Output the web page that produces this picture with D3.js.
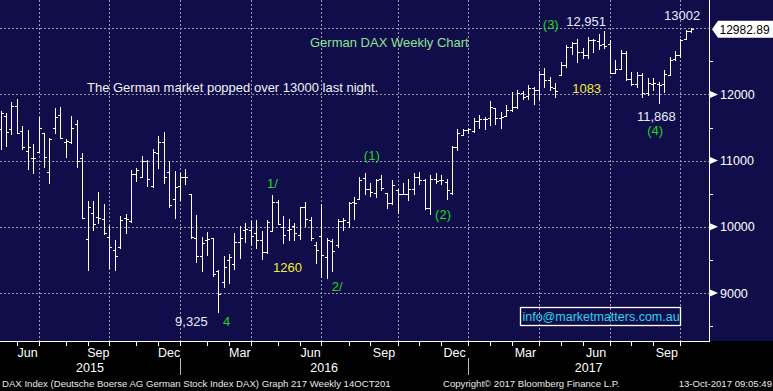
<!DOCTYPE html>
<html><head><meta charset="utf-8">
<script src="https://cdn.jsdelivr.net/npm/d3@7"></script>
<style>
html,body{margin:0;padding:0;background:#000;}
svg{display:block;font-family:"Liberation Sans",Arial,Helvetica,sans-serif;}
</style></head>
<body>
<svg id="chart" width="773" height="391"></svg>
<script>
// ---- DATA (DAX weekly OHLC, weeks from 8 May 2015 to 13 Oct 2017) ----
const firstWeek = "2015-05-08";
const openVals = [11480,11673,11472,11829,11452,11145,11044,11130,11412,10828,11487,11683,11286,11286,11548,11044,9811,10204,10153,10113,9852,9650,9690,10128,10088,10798,10747,10994,10616,11110,11276,10833,10415,10622,10747,10491,9826,9560,9801,9826,9338,9172,9499,9439,9771,9952,9952,9912,9801,9625,9937,10380,10002,9952,10012,9877,10294,10100,9726,9861,9539,9791,9726,10088,10078,10380,10415,10732,10566,10506,10717,10516,10355,10556,10496,10496,10566,10747,10707,10279,10717,10707,10682,10506,11200,11386,11462,11450,11600,11630,11640,11800,11650,11680,11760,11810,12020,11970,12100,12060,12310,12220,12100,12300,12440,12720,12780,12640,12600,12820,12810,12760,12760,12330,12390,12630,12240,12160,12300,12020,12160,12160,12150,12300,12530,12590,12840,12960];
const highVals = [11754,11714,11880,11925,11522,11462,11251,11653,11412,11336,11789,11804,11321,11673,11613,11110,10390,10390,10521,10345,10013,9801,10163,10189,10858,10893,11069,11009,11170,11371,11427,10999,10843,10808,10868,10491,10179,9851,9922,9836,9348,9560,9590,9902,10012,10053,10088,10103,9937,10103,10481,10405,10163,10113,10063,10294,10380,10150,9776,10345,9826,9811,10113,10128,10380,10455,10747,10818,10657,10717,10783,10516,10707,10566,10667,10717,10818,10833,10717,10783,10808,10783,10717,11221,11472,11472,11487,11639,11689,11660,11900,11800,11729,11840,12041,12066,12051,12142,12117,12353,12394,12268,12167,12484,12740,12796,12837,12696,12872,12835,12912,12951,12821,12519,12670,12660,12343,12343,12318,12250,12242,12192,12368,12560,12660,12831,12972,12997];
const lowVals = [11175,11220,11397,11412,11170,10873,10818,11130,10908,10667,11422,11346,11059,11261,10908,10128,9348,9952,10063,9892,9373,9348,9675,9912,10078,10697,10747,10622,10607,10883,10657,10304,10138,10405,10642,9826,9474,9338,9575,9263,8719,9097,9147,9358,9524,9776,9726,9685,9509,9600,9937,10043,9751,9801,9801,9811,10012,9800,9449,9237,9232,9338,9700,9952,10002,10113,10415,10496,10465,10455,10556,10279,10345,10204,10496,10405,10496,10647,10264,10194,10657,10647,10415,10496,11160,11386,11422,11427,11488,11480,11538,11548,11498,11679,11749,11790,11931,11931,11850,11931,12117,12066,11966,12293,12419,12605,12494,12545,12545,12645,12680,12695,12328,12320,12380,12220,12142,12117,11955,11990,12066,11868,12041,12290,12520,12560,12830,12940];
const closeVals = [11724,11437,11824,11412,11200,11200,11034,11487,11059,11321,11663,11346,11301,11487,10999,10128,10305,10038,10128,9902,9700,9560,10103,10118,10798,10858,10994,10717,11125,11286,10747,10330,10607,10747,10747,9851,9560,9761,9811,9288,8986,9398,9539,9776,9831,9962,9861,9801,9625,10078,10380,10043,9877,9962,9912,10294,10113,9834,9650,9575,9801,9640,10088,10103,10365,10367,10707,10566,10531,10707,10581,10365,10632,10496,10496,10566,10747,10707,10279,10717,10697,10707,10556,11200,11422,11462,11472,11599,11629,11630,11814,11651,11666,11757,11804,12027,11963,12095,12064,12313,12225,12109,12049,12438,12717,12770,12638,12602,12823,12816,12753,12733,12325,12389,12631,12240,12163,12297,12014,12165,12168,12142,12304,12519,12592,12829,12955,12983];
const lastPrice = 12982.89;
const yMajorTicks = [9000,10000,11000,12000,13000];
const yMinorTicks = [8500,9500,10500,11500,12500];
const yLabelTicks = ["9000","10000","11000","12000"];
const quarterMonths = ["Mar","Jun","Sep","Dec"];
const yearLabels = ["2015","2016","2017"];
// annotations anchored in data space: [text, week index, value, kind]
const annotations = [
  ["German DAX Weekly Chart", 56.9, 12712, "title"],
  ["The German market popped over 13000 last night.", 15.9, 12032, "note"],
  ["(3)", 99.7, 12988, "wave"],
  ["12,951", 104.0, 13033, "level"],
  ["13002", 122.0, 13124, "level"],
  ["1083", 105.1, 12021, "points"],
  ["11,868", 117.0, 11598, "level"],
  ["(4)", 118.9, 11387, "wave"],
  ["(1)", 66.8, 11009, "wave"],
  ["1/", 49.0, 10586, "wave"],
  ["1260", 50.1, 9317, "points"],
  ["2/", 60.9, 9030, "wave"],
  ["(2)", 79.9, 10118, "wave"],
  ["9,325", 32.1, 8502, "level"],
  ["4", 40.9, 8502, "wave"]
];
const emailText = "info@marketmatters.com.au";
const emailBox = {i0: 95.5, i1: 124.9, vTop: 8789, vBottom: 8517, vText: 8577};
const footerLeft = "DAX Index (Deutsche Boerse AG German Stock Index DAX) Graph 217  Weekly 14OCT201";
const footerMid = "Copyright\u00A9 2017 Bloomberg Finance L.P.";
const footerRight = "13-Oct-2017 09:05:49";

// ---- LAYOUT ----
const W = 773, H = 391;
const plotRight = 709, plotBottom = 341;
const navy = "#100d4a";
const n = closeVals.length;
const start = d3.timeParse("%Y-%m-%d")(firstWeek);
const dates = d3.range(n).map(i => d3.timeDay.offset(start, 7 * i));

const x = d3.scaleLinear().domain([0, n - 1]).range([0.5, 691.3]);
const y = d3.scaleLinear().domain([8275, 13426]).range([plotBottom, 0]);
const px = v => Math.round(v) + 0.5;

const svg = d3.select("#chart");
svg.append("rect").attr("width", W).attr("height", H).attr("fill", "#000");
svg.append("rect").attr("width", W).attr("height", plotBottom).attr("fill", navy);

// month-end ticks (last bar of each month)
const monthEnds = [];
for (let i = 0; i < n - 1; i++) {
  if (dates[i].getMonth() !== dates[i + 1].getMonth()) monthEnds.push(i);
}
const fmtMon = d3.timeFormat("%b");
const quarterEnds = monthEnds.filter(i => quarterMonths.includes(fmtMon(dates[i])));

// grid
const grid = svg.append("g").attr("stroke", "#9a9aa8").attr("stroke-width", 1)
  .attr("stroke-dasharray", "2,2").attr("shape-rendering", "crispEdges");
grid.selectAll("line.h").data(yMajorTicks).join("line").attr("class", "h")
  .attr("x1", 0).attr("x2", plotRight).attr("y1", d => px(y(d))).attr("y2", d => px(y(d)));
grid.selectAll("line.v").data(quarterEnds).join("line").attr("class", "v")
  .attr("x1", d => px(x(d))).attr("x2", d => px(x(d))).attr("y1", 0).attr("y2", plotBottom);

// OHLC bars
const bars = svg.append("g").attr("stroke", "#fff").attr("stroke-width", 1).attr("shape-rendering", "crispEdges");
const data = d3.range(n).map(i => ({i, o: openVals[i], h: highVals[i], l: lowVals[i], c: closeVals[i]}));
const bg = bars.selectAll("g").data(data).join("g");
bg.append("line").attr("x1", d => px(x(d.i))).attr("x2", d => px(x(d.i)))
  .attr("y1", d => Math.round(y(d.h))).attr("y2", d => Math.round(y(d.l)) + 1);
bg.append("line").attr("x1", d => px(x(d.i)) - 2.5).attr("x2", d => px(x(d.i)))
  .attr("y1", d => px(y(d.o))).attr("y2", d => px(y(d.o)));
bg.append("line").attr("x1", d => px(x(d.i))).attr("x2", d => px(x(d.i)) + 2.5)
  .attr("y1", d => px(y(d.c))).attr("y2", d => px(y(d.c)));

// axes lines
const ax = svg.append("g").attr("stroke", "#fff").attr("stroke-width", 1).attr("shape-rendering", "crispEdges");
ax.append("line").attr("x1", plotRight + 0.5).attr("x2", plotRight + 0.5).attr("y1", 0).attr("y2", plotBottom + 1);
ax.append("line").attr("x1", 0).attr("x2", plotRight + 1).attr("y1", plotBottom + 0.5).attr("y2", plotBottom + 0.5);

// bottom minor ticks
ax.selectAll("line.mt").data(monthEnds).join("line").attr("class", "mt")
  .attr("x1", d => px(x(d))).attr("x2", d => px(x(d))).attr("y1", plotBottom).attr("y2", plotBottom + 5);

// right minor ticks
ax.selectAll("line.ym").data(yMinorTicks).join("line").attr("class", "ym")
  .attr("x1", plotRight).attr("x2", plotRight + 4).attr("y1", d => px(y(d))).attr("y2", d => px(y(d)));

// right major markers & labels
const yl = svg.append("g");
yl.selectAll("path").data(yLabelTicks).join("path")
  .attr("d", d => { const yy = y(+d); return `M${plotRight + 1},${yy - 3.5}L${plotRight + 9},${yy}L${plotRight + 1},${yy + 3.5}Z`; })
  .attr("fill", "#fff");
yl.selectAll("text").data(yLabelTicks).join("text")
  .attr("x", plotRight + 11).attr("y", d => y(+d)).attr("dy", "0.36em")
  .attr("fill", "#fff").attr("font-size", "12.5px").text(d => d);

// last price box
const yp = y(lastPrice);
svg.append("path")
  .attr("d", `M${plotRight + 3},${yp}L${plotRight + 9},${yp - 8.5}L${W},${yp - 8.5}L${W},${yp + 8.5}L${plotRight + 9},${yp + 8.5}Z`)
  .attr("fill", "#fff");
svg.append("text").attr("x", plotRight + 10.5).attr("y", yp).attr("dy", "0.36em")
  .attr("fill", "#000").attr("font-size", "12px").text(lastPrice.toFixed(2));

// month labels (quarter months), centred in the month
const ml = svg.append("g").attr("fill", "#fff").attr("font-size", "12.5px").attr("text-anchor", "middle");
quarterEnds.forEach(k => {
  const prev = monthEnds[monthEnds.indexOf(k) - 1];
  const x0 = prev === undefined ? 0 : x(prev);
  ml.append("text").attr("x", (x0 + x(k)) / 2).attr("y", 357).text(fmtMon(dates[k]));
});

// year labels + separators
const decEnds = monthEnds.filter(i => fmtMon(dates[i]) === "Dec");
const bounds = [0, ...decEnds.map(i => x(i)), plotRight];
yearLabels.forEach((yr, k) => {
  ml.append("text").attr("x", (bounds[k] + bounds[k + 1]) / 2).attr("y", 372).text(yr);
});
svg.append("g").attr("stroke", "#bbb").attr("shape-rendering", "crispEdges")
  .selectAll("line").data(decEnds).join("line")
  .attr("x1", d => px(x(d))).attr("x2", d => px(x(d))).attr("y1", 358).attr("y2", 375);

// annotations
const styles = {
  title: {fill: "#8fe38f", size: "13px"},
  note: {fill: "#f2f2f2", size: "13px"},
  wave: {fill: "#22d422", size: "13px"},
  level: {fill: "#e6ecff", size: "13px"},
  points: {fill: "#f0f030", size: "13px"}
};
svg.append("g").selectAll("text").data(annotations).join("text")
  .attr("x", d => x(d[1])).attr("y", d => y(d[2]))
  .attr("fill", d => styles[d[3]].fill).attr("font-size", d => styles[d[3]].size)
  .text(d => d[0]);

// email box
svg.append("rect").attr("x", px(x(emailBox.i0))).attr("y", px(y(emailBox.vTop)))
  .attr("width", Math.round(x(emailBox.i1) - x(emailBox.i0)))
  .attr("height", Math.round(y(emailBox.vBottom) - y(emailBox.vTop)))
  .attr("fill", "none").attr("stroke", "#fff").attr("stroke-width", 1.3);
svg.append("text").attr("x", x(emailBox.i0) + 2.5).attr("y", y(emailBox.vText))
  .attr("fill", "#2ad4ea").attr("font-size", "12.5px").text(emailText);

// footer
const ft = svg.append("g").attr("fill", "#e8e8e8").attr("font-size", "9.6px");
ft.append("text").attr("x", 2).attr("y", 387).text(footerLeft);
ft.append("text").attr("x", 443).attr("y", 387).text(footerMid);
ft.append("text").attr("x", 772).attr("y", 387).attr("text-anchor", "end").text(footerRight);
</script>
</body></html>
